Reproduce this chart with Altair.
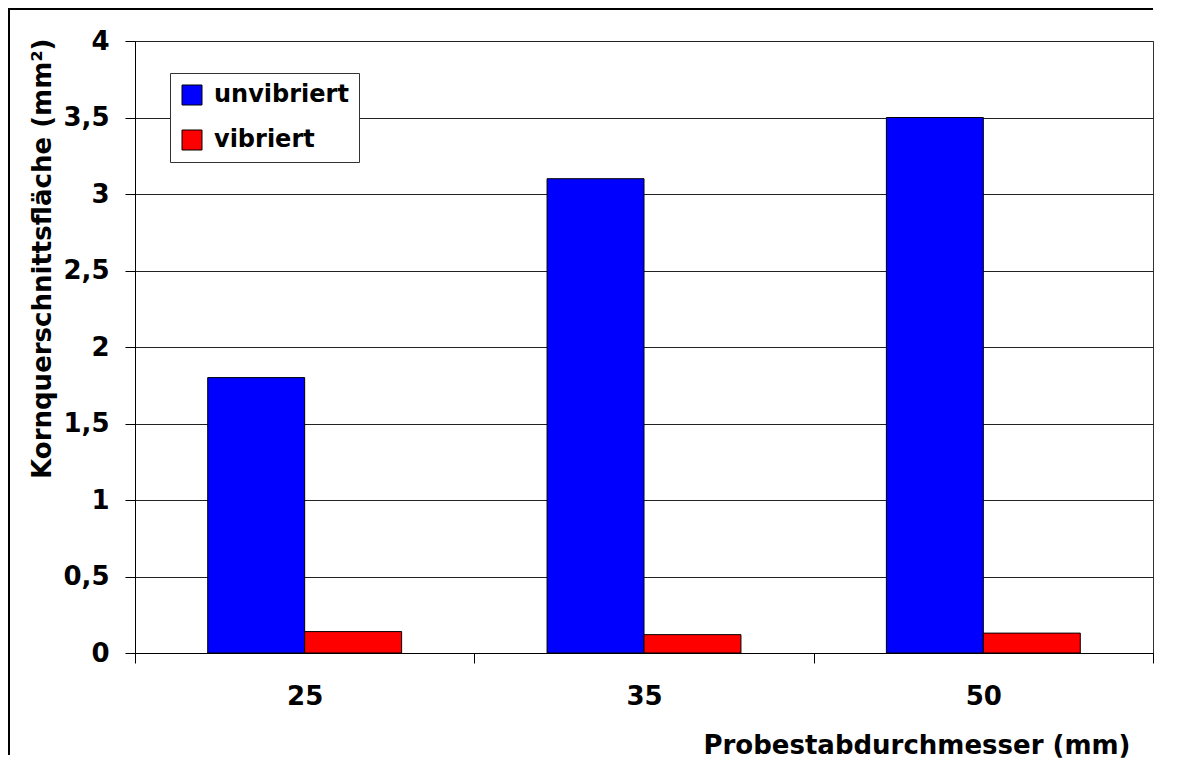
import altair as alt
import pandas as pd

durchmesser = ["25", "35", "50"]
serien = ["unvibriert", "vibriert"]
unvibriert = [1.8, 3.1, 3.5]
vibriert = [0.14, 0.12, 0.13]
y_ticks = [0, 0.5, 1, 1.5, 2, 2.5, 3, 3.5, 4]
farben = ["#0000FF", "#FF0000"]

rows = []
for d, u, v in zip(durchmesser, unvibriert, vibriert):
    rows.append({"d": d, "serie": serien[0], "wert": u})
    rows.append({"d": d, "serie": serien[1], "wert": v})
df = pd.DataFrame(rows)

FONT = "DejaVu Sans"

bars = alt.Chart(df).mark_bar(stroke="black", strokeWidth=1).encode(
    x=alt.X("d:N", sort=durchmesser,
            scale=alt.Scale(paddingInner=0, paddingOuter=0),
            axis=alt.Axis(title="Probestabdurchmesser (mm)", labelAngle=0,
                          tickBand="extent", tickSize=10, tickColor="black",
                          domainColor="black", labelPadding=20,
                          titleAnchor="end", titleAlign="right",
                          titleX=995, titleY=100, titleBaseline="alphabetic")),
    xOffset=alt.XOffset("serie:N", sort=serien,
                        scale=alt.Scale(paddingOuter=0.75, paddingInner=0)),
    y=alt.Y("wert:Q", scale=alt.Scale(domain=[0, 4], nice=False),
            axis=alt.Axis(title="Kornquerschnittsfläche (mm²)", values=y_ticks,
                          format="~g",
                          labelExpr="replace(datum.label, '.', ',')",
                          tickSize=10, tickColor="black", domainColor="black",
                          grid=True, gridColor="#222222", gridWidth=1,
                          labelPadding=16, titleAngle=270,
                          titleAlign="right", titleBaseline="middle",
                          titleX=-93, titleY=-3)),
    color=alt.Color("serie:N", sort=serien,
                    scale=alt.Scale(domain=serien, range=farben),
                    legend=alt.Legend(title=None, orient="none",
                                      legendX=35, legendY=32,
                                      strokeColor="#333333", fillColor="white",
                                      padding=10, symbolType="square",
                                      symbolSize=400, symbolStrokeColor="black",
                                      symbolStrokeWidth=1, labelOffset=10,
                                      rowPadding=21, labelFont=FONT,
                                      labelFontSize=24, labelFontWeight="bold",
                                      labelColor="black")),
)

frame_data = alt.Data(values=[{"k": 1}])
top_line = alt.Chart(frame_data).mark_rule(color="black", strokeWidth=2).encode(
    x=alt.value(1018), x2=alt.value(-127), y=alt.value(-32)
)
left_line = alt.Chart(frame_data).mark_rule(color="black", strokeWidth=2).encode(
    x=alt.value(-126), x2=alt.value(-126), y=alt.value(-33), y2=alt.value(714)
)

chart = alt.layer(bars, top_line, left_line).properties(
    width=1018, height=612,
    autosize=alt.AutoSizeParams(type="none"),
    padding={"left": 127, "top": 33, "right": 20, "bottom": 110},
    background="white",
).configure_view(
    stroke="#333333", strokeWidth=1
).configure_axis(
    labelFont=FONT, labelFontSize=26, labelFontWeight="bold", labelColor="black",
    titleFont=FONT, titleFontSize=26, titleFontWeight="bold", titleColor="black",
)

chart.save("out.html", embed_options={"renderer": "svg", "actions": False})
